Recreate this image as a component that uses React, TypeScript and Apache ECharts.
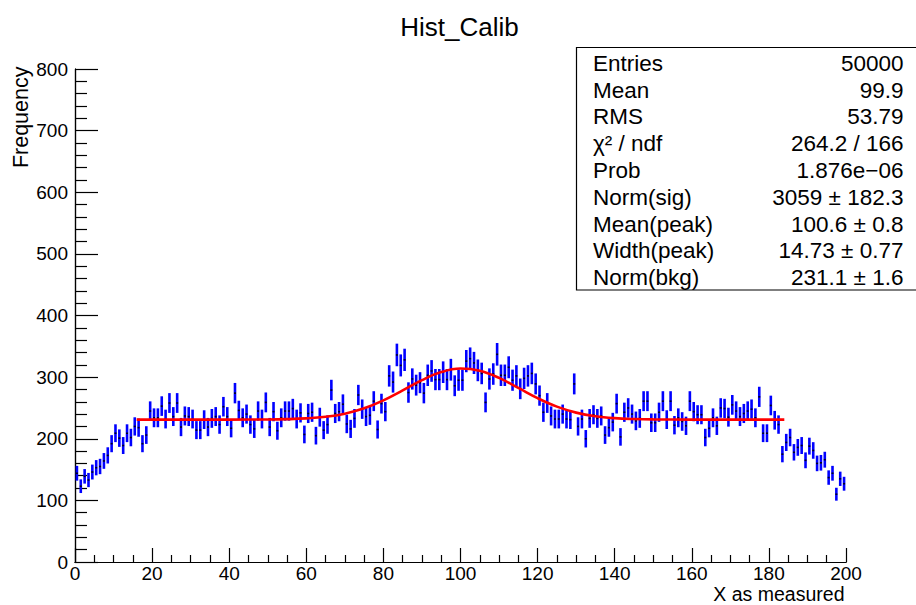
import React, { useEffect, useRef } from "react";
import * as echarts from "echarts";

// Histogram: 200 bins of width 1 from 0 to 200 (bin contents)
const binLow = 0;
const binWidth = 1;
const counts: number[] = [
  144, 123, 139, 133, 146, 153, 155, 164, 173, 192,
  209, 201, 189, 209, 202, 220, 218, 192, 206, 245,
  234, 234, 253, 232, 258, 236, 258, 219, 237, 236,
  232, 214, 214, 231, 219, 233, 236, 223, 252, 236,
  217, 274, 246, 234, 240, 223, 216, 245, 232, 259,
  219, 244, 213, 234, 245, 245, 249, 232, 242, 207,
  241, 243, 205, 235, 214, 223, 279, 241, 244, 256,
  224, 216, 233, 271, 248, 236, 238, 261, 215, 257,
  244, 302, 292, 336, 319, 328, 275, 297, 287, 291,
  274, 303, 310, 296, 296, 308, 296, 312, 286, 295,
  295, 326, 330, 323, 311, 306, 259, 297, 305, 337,
  303, 303, 316, 295, 302, 281, 298, 302, 306, 289,
  270, 243, 258, 237, 232, 232, 240, 232, 231, 289,
  220, 232, 200, 233, 239, 233, 237, 206, 218, 227,
  257, 203, 243, 250, 240, 229, 233, 261, 261, 226,
  226, 243, 261, 231, 261, 222, 234, 228, 221, 261,
  244, 239, 239, 202, 217, 234, 221, 250, 249, 235,
  255, 245, 236, 241, 245, 248, 234, 268, 209, 209,
  254, 230, 223, 175, 194, 202, 178, 186, 189, 165,
  188, 181, 160, 161, 166, 137, 144, 110, 135, 127,
];

// Fitted curve (red)
const fitX: number[] = [16, 20, 30, 40, 50, 55, 60, 65, 70, 75, 80, 85, 90, 95, 100, 105, 110, 115, 120, 125, 130, 135, 140, 145, 150, 160, 170, 184];
const fitY: number[] = [231.1, 231.1, 231.1, 231.1, 231.3, 231.8, 233.0, 235.6, 240.7, 249.4, 262.3, 278.4, 295.1, 308.2, 313.9, 310.3, 298.7, 282.5, 265.9, 252.1, 242.4, 236.5, 233.4, 232.0, 231.4, 231.1, 231.1, 231.1];

// Statistics box
const statNames: string[] = ["Entries", "Mean", "RMS", "χ² / ndf", "Prob", "Norm(sig)", "Mean(peak)", "Width(peak)", "Norm(bkg)"];
const statValues: string[] = ["50000", "99.9", "53.79", "264.2 / 166", "1.876e−06", "3059 ± 182.3", "100.6 ± 0.8", "14.73 ± 0.77", "231.1 ± 1.6"];

const titleText = "Hist_Calib";
const xTitle = "X as measured";
const yTitle = "Frequency";

const FONT = "'Liberation Sans', Arial, Helvetica, sans-serif";

export default function App() {
  const ref = useRef<HTMLDivElement>(null);

  useEffect(() => {
    if (!ref.current) return;
    const chart = echarts.init(ref.current, undefined, { renderer: "svg" });

    const histData = counts.map((c, i) => [binLow + (i + 0.5) * binWidth, c, Math.sqrt(c)]);
    const fitData = fitX.map((x, i) => [x, fitY[i]]);

    const statTexts: any[] = [];
    statNames.forEach((n, k) => {
      const y = 63.3 + k * 26.8;
      statTexts.push({
        type: "text",
        x: 593,
        y,
        style: { text: n, fontSize: 22.5, fontFamily: FONT, fill: "#000", align: "left", verticalAlign: "middle" },
      });
      statTexts.push({
        type: "text",
        x: 903.5,
        y,
        style: { text: statValues[k], fontSize: 22.5, fontFamily: FONT, fill: "#000", align: "right", verticalAlign: "middle" },
      });
    });

    const axisCommon = {
      type: "value" as const,
      axisLine: { show: true, lineStyle: { color: "#000", width: 1.2 } },
      splitLine: { show: false },
    };

    chart.setOption({
      animation: false,
      backgroundColor: "#fff",
      grid: { left: 75, top: 69, width: 771, height: 493, containLabel: false },
      xAxis: [
        {
          ...axisCommon,
          min: 0,
          max: 200,
          interval: 20,
          axisTick: { show: true, inside: true, length: 14, lineStyle: { color: "#000", width: 1.2 } },
          minorTick: { show: true, splitNumber: 4, length: 7, lineStyle: { color: "#000", width: 1.2 } },
          axisLabel: { fontSize: 19, lineHeight: 17, fontFamily: FONT, color: "#000", margin: 2.5, showMinLabel: true, showMaxLabel: true },
        },
        {
          ...axisCommon,
          position: "top",
          min: 0,
          max: 200,
          interval: 20,
          axisTick: { show: false },
          axisLabel: { show: false },
        },
      ],
      yAxis: [
        {
          ...axisCommon,
          min: 0,
          max: 800,
          interval: 100,
          axisTick: { show: true, inside: true, length: 23, lineStyle: { color: "#000", width: 1.2 } },
          minorTick: { show: true, splitNumber: 5, length: 12, lineStyle: { color: "#000", width: 1.2 } },
          axisLabel: { fontSize: 19, fontFamily: FONT, color: "#000", margin: 7, showMinLabel: true, showMaxLabel: true },
        },
        {
          ...axisCommon,
          position: "right",
          min: 0,
          max: 800,
          interval: 100,
          axisTick: { show: false },
          axisLabel: { show: false },
        },
      ],
      series: [
        {
          type: "custom",
          xAxisIndex: 0,
          yAxisIndex: 0,
          data: histData,
          encode: { x: 0, y: 1 },
          z: 3,
          renderItem: (params: any, api: any) => {
            const x = api.value(0);
            const y = api.value(1);
            const e = api.value(2);
            const p0 = api.coord([x, y - e]);
            const p1 = api.coord([x, y + e]);
            const c = api.coord([x, y]);
            return {
              type: "group",
              children: [
                {
                  type: "line",
                  shape: { x1: p0[0], y1: p0[1], x2: p1[0], y2: p1[1] },
                  style: { stroke: "#0000ff", lineWidth: 2.6 },
                },
                {
                  type: "rect",
                  shape: { x: c[0] - 1, y: c[1] - 0.8, width: 2, height: 1.6 },
                  style: { fill: "#000022" },
                },
              ],
            };
          },
        },
        {
          type: "line",
          xAxisIndex: 0,
          yAxisIndex: 0,
          data: fitData,
          smooth: 0.4,
          showSymbol: false,
          symbol: "none",
          z: 4,
          lineStyle: { color: "#ff0000", width: 2.6 },
        },
      ],
      graphic: [
        {
          type: "text",
          x: 459.5,
          y: 27,
          style: { text: titleText, fontSize: 26, fontFamily: FONT, fill: "#000", align: "center", verticalAlign: "middle" },
        },
        {
          type: "text",
          x: 844.5,
          y: 594.3,
          style: { text: xTitle, fontSize: 19.5, lineHeight: 18, fontFamily: FONT, fill: "#000", align: "right", verticalAlign: "middle" },
        },
        {
          type: "text",
          x: 21,
          y: 66.5,
          rotation: Math.PI / 2,
          style: { text: yTitle, fontSize: 21.5, fontFamily: FONT, fill: "#000", align: "right", verticalAlign: "middle" },
        },
        {
          type: "group",
          z: 100,
          children: [
            {
              type: "rect",
              shape: { x: 576.5, y: 47.5, width: 360, height: 242.5 },
              style: { fill: "#fff", stroke: "#000", lineWidth: 1.2 },
            },
            ...statTexts,
          ],
        },
      ],
    });

    return () => chart.dispose();
  }, []);

  return (
    <div
      ref={ref}
      style={{ position: "absolute", left: 0, top: 0, width: 916, height: 605, background: "#fff" }}
    />
  );
}
